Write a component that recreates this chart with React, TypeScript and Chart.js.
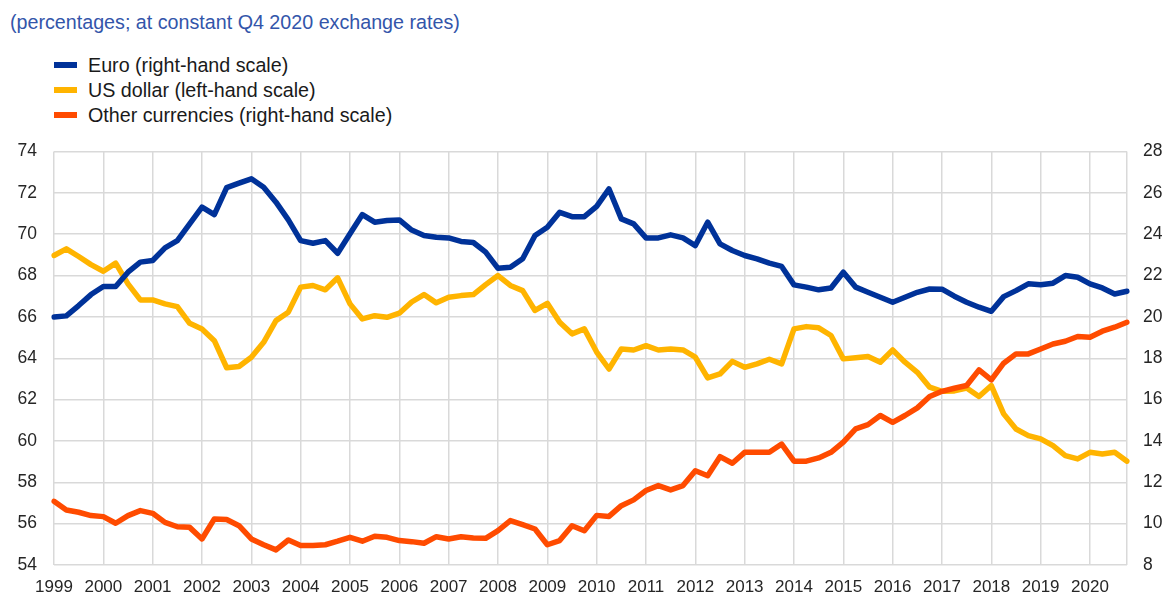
import React, { useEffect, useRef } from 'react';
import { Chart, registerables } from 'chart.js';

Chart.register(...registerables);

const titleText = '(percentages; at constant Q4 2020 exchange rates)';

const years = [
  '1999', '2000', '2001', '2002', '2003', '2004', '2005', '2006', '2007', '2008', '2009',
  '2010', '2011', '2012', '2013', '2014', '2015', '2016', '2017', '2018', '2019', '2020',
];
const quarters = ['Q1', 'Q2', 'Q3', 'Q4'];

const leftTicks = { min: 54, max: 74, step: 2 };
const rightTicks = { min: 8, max: 28, step: 2 };

const seriesNames = ['Euro (right-hand scale)', 'US dollar (left-hand scale)', 'Other currencies (right-hand scale)'];
const seriesColors = ['#003299', '#FFB400', '#FF4B00'];

// Euro, right-hand scale
const euro = [
  20.0, 20.05, 20.55, 21.08, 21.47, 21.47, 22.16, 22.65, 22.73, 23.34, 23.69, 24.5,
  25.31, 24.95, 26.25, 26.47, 26.68, 26.27, 25.55, 24.69, 23.69, 23.56, 23.69, 23.08,
  24.02, 24.95, 24.58, 24.66, 24.69, 24.2, 23.94, 23.85, 23.82, 23.65, 23.6, 23.13,
  22.35, 22.4, 22.81, 23.94, 24.34, 25.06, 24.85, 24.85, 25.35, 26.19, 24.74, 24.5,
  23.82, 23.82, 23.97, 23.82, 23.45, 24.58, 23.53, 23.21, 22.97, 22.81, 22.6, 22.44,
  21.55, 21.44, 21.31, 21.4, 22.16, 21.44, 21.19, 20.95, 20.71, 20.95, 21.19, 21.35,
  21.34, 21.0, 20.71, 20.47, 20.27, 20.98, 21.27, 21.6, 21.56, 21.63, 22.0, 21.92,
  21.6, 21.4, 21.11, 21.24,
];

// US dollar, left-hand scale
const usDollar = [
  68.97, 69.29, 68.92, 68.53, 68.21, 68.6, 67.6, 66.82, 66.82, 66.63, 66.5, 65.69,
  65.42, 64.85, 63.54, 63.6, 64.05, 64.77, 65.82, 66.23, 67.44, 67.52, 67.31, 67.89,
  66.63, 65.9, 66.06, 65.98, 66.18, 66.72, 67.08, 66.68, 66.95, 67.03, 67.08, 67.56,
  68.0, 67.52, 67.27, 66.31, 66.66, 65.74, 65.18, 65.42, 64.3, 63.48, 64.45, 64.4,
  64.61, 64.4, 64.45, 64.4, 64.05, 63.05, 63.24, 63.85, 63.56, 63.73, 63.95, 63.73,
  65.42, 65.53, 65.47, 65.1, 63.97, 64.02, 64.08, 63.81, 64.4, 63.81, 63.32, 62.6,
  62.4, 62.42, 62.56, 62.15, 62.68, 61.31, 60.58, 60.26, 60.1, 59.77, 59.29, 59.13,
  59.45, 59.37, 59.45, 59.02,
];

// Other currencies, right-hand scale
const otherCurrencies = [
  11.08, 10.66, 10.55, 10.39, 10.34, 10.02, 10.39, 10.63, 10.5, 10.06, 9.85, 9.82,
  9.26, 10.23, 10.2, 9.9, 9.26, 8.98, 8.73, 9.21, 8.94, 8.94, 8.98, 9.15,
  9.34, 9.15, 9.39, 9.34, 9.18, 9.13, 9.05, 9.37, 9.26, 9.37, 9.31, 9.29,
  9.66, 10.15, 9.95, 9.74, 8.98, 9.18, 9.9, 9.66, 10.4, 10.35, 10.87, 11.15,
  11.6, 11.84, 11.63, 11.84, 12.56, 12.32, 13.24, 12.92, 13.45, 13.45, 13.45, 13.85,
  13.02, 13.02, 13.18, 13.45, 13.94, 14.58, 14.79, 15.23, 14.9, 15.23, 15.6, 16.15,
  16.4, 16.55, 16.68, 17.44, 16.95, 17.76, 18.21, 18.21, 18.45, 18.69, 18.82, 19.05,
  19.02, 19.31, 19.5, 19.74,
];

const categories = years.flatMap((y) => quarters.map((q) => `${y} ${q}`));

const FONT = '"Liberation Sans", Arial, Helvetica, sans-serif';
const GRID = '#d9d9d9';
const TEXT = '#262626';

const CANVAS_TOP = 124;
const CANVAS_H = 596 - CANVAS_TOP;

export default function App() {
  const canvasRef = useRef<HTMLCanvasElement | null>(null);

  useEffect(() => {
    const canvas = canvasRef.current;
    if (!canvas) return;
    const lastIndex = categories.length - 1;
    const chart = new Chart(canvas, {
      type: 'line',
      data: {
        labels: categories,
        datasets: [
          {
            label: seriesNames[0],
            data: euro,
            yAxisID: 'y1',
            borderColor: seriesColors[0],
            backgroundColor: seriesColors[0],
            order: 1,
          },
          {
            label: seriesNames[1],
            data: usDollar,
            yAxisID: 'y',
            borderColor: seriesColors[1],
            backgroundColor: seriesColors[1],
            order: 3,
          },
          {
            label: seriesNames[2],
            data: otherCurrencies,
            yAxisID: 'y1',
            borderColor: seriesColors[2],
            backgroundColor: seriesColors[2],
            order: 2,
          },
        ],
      },
      options: {
        responsive: false,
        animation: false,
        layout: { padding: { top: 0, left: 0, right: 0, bottom: 0 } },
        elements: {
          point: { radius: 0, hoverRadius: 0 },
          line: { borderWidth: 5.5, tension: 0, borderCapStyle: 'round', borderJoinStyle: 'round' },
        },
        plugins: {
          legend: { display: false },
          title: { display: false },
          tooltip: { enabled: false },
        },
        scales: {
          x: {
            type: 'category',
            offset: false,
            border: { display: false },
            grid: {
              drawTicks: false,
              lineWidth: 1.5,
              color: (ctx: any) => (ctx.index % 4 === 0 || ctx.index === lastIndex ? GRID : 'rgba(0,0,0,0)'),
            },
            ticks: {
              autoSkip: false,
              maxRotation: 0,
              minRotation: 0,
              padding: 12,
              color: TEXT,
              font: { family: FONT, size: 17 },
              callback: (_v: any, i: number) => (i % 4 === 0 ? years[i / 4] : ''),
            },
            afterFit: (s: any) => {
              s.height = 31;
            },
          },
          y: {
            position: 'left',
            min: leftTicks.min,
            max: leftTicks.max,
            border: { display: false },
            grid: { drawTicks: false, lineWidth: 1.5, color: GRID },
            ticks: {
              stepSize: leftTicks.step,
              padding: 17,
              color: TEXT,
              font: { family: FONT, size: 17.5 },
            },
            afterFit: (s: any) => {
              s.width = 54;
            },
          },
          y1: {
            position: 'right',
            min: rightTicks.min,
            max: rightTicks.max,
            border: { display: false },
            grid: { display: false, drawTicks: false },
            ticks: {
              stepSize: rightTicks.step,
              padding: 16,
              color: TEXT,
              font: { family: FONT, size: 17.5 },
            },
            afterFit: (s: any) => {
              s.width = 45;
            },
          },
        },
      },
    });
    return () => chart.destroy();
  }, []);

  const legendTops = [53, 78, 103];

  return (
    <div
      style={{
        position: 'fixed',
        left: 0,
        top: 0,
        width: 1172,
        height: 596,
        background: '#ffffff',
        fontFamily: FONT,
        overflow: 'hidden',
      }}
    >
      <div
        style={{
          position: 'absolute',
          left: 10,
          top: 11,
          fontSize: 19.7,
          lineHeight: '23px',
          color: '#3355aa',
          whiteSpace: 'nowrap',
        }}
      >
        {titleText}
      </div>
      {seriesNames.map((name, k) => (
        <div
          key={name}
          style={{
            position: 'absolute',
            left: 54,
            top: legendTops[k],
            height: 24,
            display: 'flex',
            alignItems: 'center',
            whiteSpace: 'nowrap',
          }}
        >
          <span
            style={{
              display: 'inline-block',
              width: 23,
              height: 6,
              background: seriesColors[k],
              marginRight: 11,
            }}
          />
          <span style={{ fontSize: 19.7, lineHeight: '24px', color: '#1a1a1a' }}>{name}</span>
        </div>
      ))}
      <div style={{ position: 'absolute', left: 0, top: CANVAS_TOP, width: 1172, height: CANVAS_H }}>
        <canvas
          ref={canvasRef}
          width={1172}
          height={CANVAS_H}
          style={{ width: 1172, height: CANVAS_H, display: 'block' }}
        />
      </div>
    </div>
  );
}
